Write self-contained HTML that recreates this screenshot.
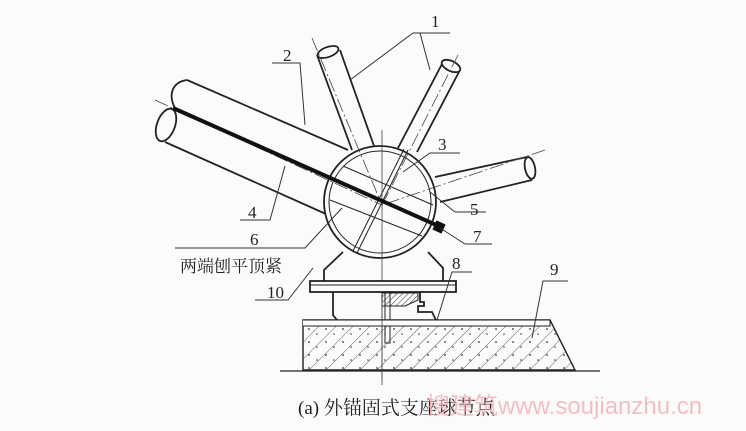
<!DOCTYPE html>
<html><head><meta charset="utf-8"><style>
html,body{margin:0;padding:0;background:#fbfbfb;}
svg{display:block}
text{font-family:"Liberation Serif","Noto Serif CJK SC",serif;fill:#222}
</style></head><body>
<svg width="746" height="431" viewBox="0 0 746 431" xmlns="http://www.w3.org/2000/svg">
<defs>
<pattern id="h" width="12" height="12" patternUnits="userSpaceOnUse" patternTransform="rotate(45)">
<line x1="0" y1="0" x2="0" y2="12" stroke="#333" stroke-width="0.8"/>
</pattern>
<pattern id="h2" width="4" height="4" patternUnits="userSpaceOnUse" patternTransform="rotate(45)">
<line x1="0" y1="0" x2="0" y2="4" stroke="#333" stroke-width="1"/>
</pattern>
<pattern id="dots" width="17" height="13" patternUnits="userSpaceOnUse">
<circle cx="3" cy="4" r="0.9" fill="#333"/><circle cx="11" cy="9" r="0.8" fill="#333"/>
</pattern>
</defs>
<g fill="none" stroke="#222" stroke-width="1.8">
<path d="M317,55 L352,150 M340,50 L374,146"/>
<ellipse cx="328" cy="52" rx="11" ry="5" transform="rotate(-20 328 52)" fill="#fbfbfb"/>
<path d="M442,64 L398,148 M460,70 L417,152"/>
<ellipse cx="451" cy="66" rx="10" ry="5" transform="rotate(25 451 66)" fill="#fbfbfb"/>
<path d="M435,177 L527,157 M440,202 L532,180"/>
<ellipse cx="530" cy="168" rx="5" ry="11" transform="rotate(-12 530 168)" fill="#fbfbfb"/>
<path d="M187,80 L348,150 M165,142 L326,214"/>
<path d="M175,108 C168,95 172,82 187,80"/>
<ellipse cx="166" cy="125" rx="9" ry="17" transform="rotate(20 166 125)" fill="#fbfbfb"/>
<circle cx="380" cy="202" r="56" fill="#fbfbfb"/>
<circle cx="380" cy="202" r="51" stroke-width="1"/>
<path d="M343,166 L433,205 M330,200 L422,236" stroke-width="1"/>
<path d="M408,150 L357,253 M404,149 L353,251" stroke-width="1"/>
</g>
<g stroke="#444" stroke-width="0.8" fill="none" stroke-dasharray="14,3,2,3">
<path d="M312,38 L382,205"/><path d="M458,55 L382,205"/>
<path d="M545,150 L382,205"/><path d="M155,100 L382,205"/>
<path d="M382,130 L382,380" stroke-dasharray="none"/>
</g>
<line x1="173" y1="108" x2="443" y2="228" stroke="#111" stroke-width="4"/>
<rect x="434" y="222" width="10" height="10" fill="#111" transform="rotate(24 439 227)"/>
<g fill="none" stroke="#222" stroke-width="1.8">
<path d="M343,252 L324,270 L324,281 M428,252 L443,268 L443,281"/>
<rect x="310" y="281" width="146" height="11" fill="#fbfbfb"/>
<line x1="310" y1="285" x2="456" y2="285" stroke-width="1"/>
<path d="M333,292 L333,315 L337,320 M420,292 L420,302 L424,302 L424,306 L418,306 L418,312 L432,312 L436,320"/>
<rect x="385" y="293" width="5" height="50" fill="#fbfbfb" stroke-width="1"/>
</g>
<path d="M382,293 L418,293 L418,300 L405,306 L382,306 Z" fill="url(#h2)" stroke="#222"/>
<path d="M303,320 L550,320 L575,370 L303,370 Z" fill="url(#h)" stroke="#222" stroke-width="1.4"/>
<path d="M303,320 L550,320 L575,370 L303,370 Z" fill="url(#dots)"/>
<path d="M303,320 L550,320 L550,326 L303,326" fill="#fbfbfb" stroke="#222" stroke-width="1"/>
<line x1="280" y1="371" x2="600" y2="371" stroke="#222" stroke-width="1.2"/>
<line x1="382" y1="300" x2="382" y2="385" stroke="#444" stroke-width="0.8"/>
<g fill="none" stroke="#333" stroke-width="1">
<path d="M350,80 L413,33 L450,33 M430,70 L420,33"/>
<path d="M272,63 L300,63 L305,125"/>
<path d="M403,172 L430,153 L460,153"/>
<path d="M240,220 L270,220 L285,166"/>
<path d="M430,192 L455,212 L486,212"/>
<path d="M342,208 L305,248 L175,248"/>
<path d="M440,228 L465,244 L492,244"/>
<path d="M437,320 L452,272 L472,272"/>
<path d="M532,338 L543,281 L568,281"/>
<path d="M313,268 L288,300 L255,300"/>
</g>
<g font-size="17">
<text x="431" y="27">1</text><text x="283" y="61">2</text><text x="438" y="150">3</text>
<text x="248" y="218">4</text><text x="470" y="215">5</text><text x="250" y="245">6</text>
<text x="473" y="242">7</text><text x="452" y="269">8</text><text x="550" y="275">9</text>
<text x="267" y="298">10</text>
</g>
<text x="180" y="272" font-size="17" font-family="Noto Sans CJK SC,sans-serif">两端刨平顶紧</text>
<text x="298" y="414" font-size="19">(a) 外锚固式支座球节点</text>
<text x="426" y="414" font-size="24" style="fill:#f2a9b3;opacity:0.75;font-family:'Liberation Sans','Noto Sans CJK SC',sans-serif">搜建筑www.soujianzhu.cn</text>
</svg>
</body></html>
